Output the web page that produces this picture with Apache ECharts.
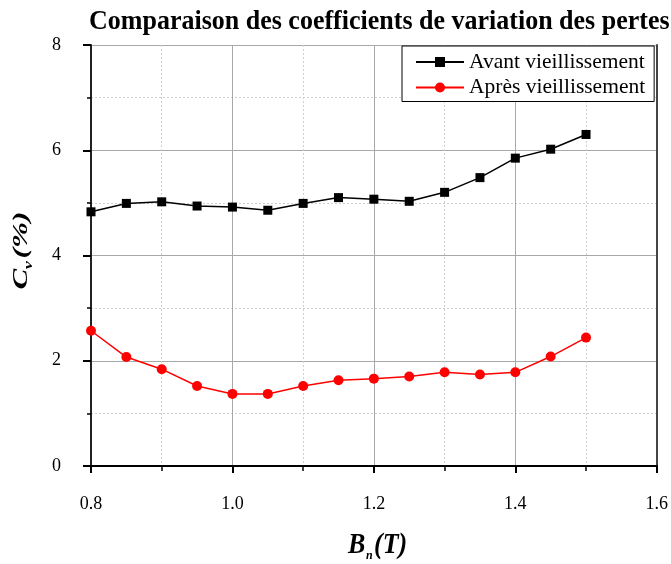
<!DOCTYPE html>
<html>
<head>
<meta charset="utf-8">
<script src="https://cdn.jsdelivr.net/npm/echarts@6/dist/echarts.min.js"></script>
<style>html,body{margin:0;padding:0;background:#fff}#c{width:671px;height:564px}</style>
</head>
<body>
<div id="c"></div>
<script>
var bValues = [0.8, 0.85, 0.9, 0.95, 1.0, 1.05, 1.1, 1.15, 1.2, 1.25, 1.3, 1.35, 1.4, 1.45, 1.5];
var avantValues = [4.83, 4.99, 5.02, 4.94, 4.92, 4.86, 4.99, 5.10, 5.07, 5.03, 5.20, 5.48, 5.85, 6.02, 6.30];
var apresValues = [2.57, 2.07, 1.84, 1.52, 1.37, 1.37, 1.52, 1.63, 1.66, 1.70, 1.78, 1.74, 1.78, 2.08, 2.44];
var seriesNames = ['Avant vieillissement', 'Après vieillissement'];
var titleText = 'Comparaison des coefficients de variation des pertes';

function pairs(xs, ys) { return xs.map(function (x, i) { return [x, ys[i]]; }); }

var FONT = '"Liberation Serif", "Times New Roman", serif';
var chart = echarts.init(document.getElementById('c'), null, {renderer: 'canvas'});
chart.setOption({
  backgroundColor: '#fff',
  animation: false,
  grid: {left: 91, right: 13, top: 45, bottom: 98, containLabel: false},
  legend: {
    orient: 'vertical', left: 402, top: 46,
    padding: [5, 9, 3, 13],
    itemWidth: 48, itemHeight: 12.5, itemGap: 3.5,
    backgroundColor: '#fff', borderColor: '#000', borderWidth: 1,
    textStyle: {fontFamily: FONT, fontSize: 21.5, color: '#000', padding: [0, 0, 0, 0]},
    data: seriesNames
  },
  xAxis: [{
    type: 'value', min: 0.8, max: 1.6, interval: 0.2,
    axisLine: {show: true, onZero: false, lineStyle: {color: '#000', width: 2}},
    axisTick: {show: true, inside: false, length: 7, lineStyle: {color: '#000', width: 2}},
    minorTick: {show: true, splitNumber: 2, length: 5, lineStyle: {color: '#000', width: 1.5}},
    axisLabel: {margin: 29, fontFamily: FONT, fontSize: 18, color: '#000', formatter: function (v) { return v.toFixed(1); }},
    splitLine: {show: true, lineStyle: {color: '#a8a8a8', width: 1}},
    minorSplitLine: {show: true, lineStyle: {color: '#cfcfcf', width: 1, type: [2, 2]}}
  }, {
    type: 'value', position: 'top', min: 0.8, max: 1.6, interval: 0.2,
    axisLine: {show: true, lineStyle: {color: '#000', width: 2}},
    axisTick: {show: false}, axisLabel: {show: false}, splitLine: {show: false}
  }],
  yAxis: [{
    type: 'value', min: 0, max: 8, interval: 2,
    axisLine: {show: true, onZero: false, lineStyle: {color: '#222', width: 2}},
    axisTick: {show: true, inside: false, length: 8, lineStyle: {color: '#000', width: 2}},
    minorTick: {show: true, splitNumber: 2, length: 4, lineStyle: {color: '#000', width: 1.5}},
    axisLabel: {margin: 30, fontFamily: FONT, fontSize: 18, color: '#000'},
    splitLine: {show: true, lineStyle: {color: '#a8a8a8', width: 1}},
    minorSplitLine: {show: true, lineStyle: {color: '#cfcfcf', width: 1, type: [2, 2]}}
  }, {
    type: 'value', position: 'right', min: 0, max: 8, interval: 2,
    axisLine: {show: true, lineStyle: {color: '#444', width: 2}},
    axisTick: {show: false}, axisLabel: {show: false}, splitLine: {show: false}
  }],
  series: [{
    name: seriesNames[0], type: 'line', data: pairs(bValues, avantValues),
    symbol: 'rect', symbolSize: 9,
    lineStyle: {color: '#000', width: 1.5}, itemStyle: {color: '#000'}
  }, {
    name: seriesNames[1], type: 'line', data: pairs(bValues, apresValues),
    symbol: 'circle', symbolSize: 10,
    lineStyle: {color: '#ff0000', width: 1.5}, itemStyle: {color: '#ff0000'}
  }],
  graphic: [{
    type: 'group', x: 89, y: 22, scaleY: 1.05,
    children: [
      {type: 'text', x: 0, y: 0, style: {text: titleText, font: 'bold 26px ' + FONT, fill: '#000', textAlign: 'left', textVerticalAlign: 'middle'}}
    ]
  }, {
    type: 'group', x: 22, y: 250, rotation: Math.PI / 2, scaleX: 1.2, scaleY: 0.8,
    children: [
      {type: 'text', x: -33, y: 0, style: {text: 'C', font: 'italic bold 26px ' + FONT, fill: '#000', textAlign: 'left', textVerticalAlign: 'middle'}},
      {type: 'text', x: -16, y: 9, style: {text: 'v', font: 'italic bold 15px ' + FONT, fill: '#000', textAlign: 'left', textVerticalAlign: 'middle'}},
      {type: 'text', x: -7, y: 0, style: {text: '(%)', font: 'italic bold 26px ' + FONT, fill: '#000', textAlign: 'left', textVerticalAlign: 'middle'}}
    ]
  }, {
    type: 'group', x: 348, y: 546, scaleY: 1.1,
    children: [
      {type: 'text', x: 0, y: 0, style: {text: 'B', font: 'italic bold 26px ' + FONT, fill: '#000', textAlign: 'left', textVerticalAlign: 'middle'}},
      {type: 'text', x: 18, y: 9, style: {text: 'n', font: 'italic bold 12px ' + FONT, fill: '#000', textAlign: 'left', textVerticalAlign: 'middle'}},
      {type: 'text', x: 26, y: 0, style: {text: '(T)', font: 'italic bold 26px ' + FONT, fill: '#000', textAlign: 'left', textVerticalAlign: 'middle'}}
    ]
  }]
});
</script>
</body>
</html>
